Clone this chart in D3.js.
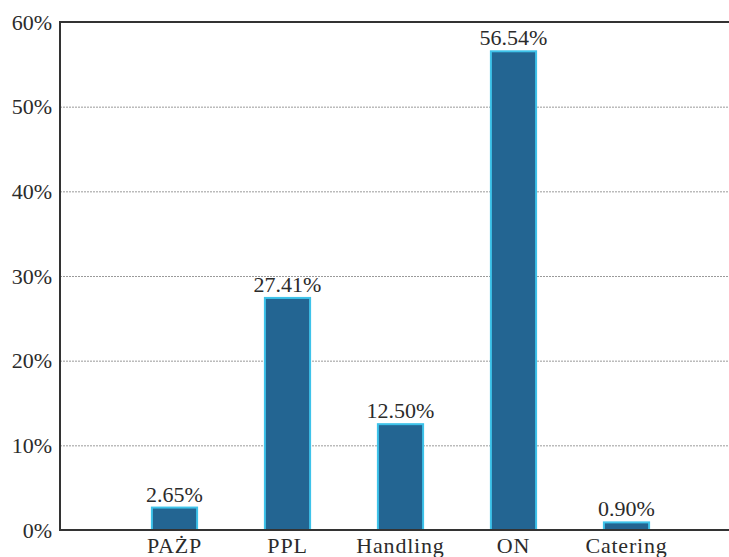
<!DOCTYPE html>
<html>
<head>
<meta charset="utf-8">
<script src="https://cdn.jsdelivr.net/npm/d3@7"></script>
<style>
  body { margin: 0; background: #fff; }
  text { font-family: "Liberation Serif", "Times New Roman", serif; fill: #2b2b2b; }
</style>
</head>
<body>
<div id="chart"></div>
<script>
var w = 729;
var h = 557;

// data
var categories = ['PAŻP', 'PPL', 'Handling', 'ON', 'Catering'];
var shares = [2.65, 27.41, 12.50, 56.54, 0.90];
var yTicks = [0, 10, 20, 30, 40, 50, 60];

// note: "top" is reserved on window, use other names
var plotLeft = 60, plotTop = 22, plotBottom = 530;

var svg = d3.select('#chart')
            .append('svg')
            .attr('width', w)
            .attr('height', h);

var x = d3.scaleBand()
          .domain(categories)
          .range([118, 683]);

var y = d3.scaleLinear()
          .domain([0, 60])
          .range([plotBottom, plotTop]);

var barW = x.bandwidth() * 0.4;

// grid lines
svg.append('g')
   .selectAll('line')
   .data(yTicks.filter(function(d){ return d > 0 && d < 60; }))
   .enter()
   .append('line')
   .attr('x1', plotLeft)
   .attr('x2', w)
   .attr('y1', function(d){ return y(d) + 0.5; })
   .attr('y2', function(d){ return y(d) + 0.5; })
   .style('stroke', '#9a9a9a')
   .style('stroke-width', 1)
   .style('stroke-dasharray', '2,1');

// top line
svg.append('line')
   .attr('x1', plotLeft).attr('x2', w)
   .attr('y1', y(60)).attr('y2', y(60))
   .style('stroke', '#333')
   .style('stroke-width', 2);

// y axis
var yAxis = d3.axisLeft(y)
              .tickValues(yTicks)
              .tickSize(0)
              .tickPadding(8)
              .tickFormat(function(d){ return d + '%'; });

var yg = svg.append('g')
            .attr('transform', 'translate(' + plotLeft + ',0)')
            .call(yAxis);
yg.select('.domain').remove();
yg.selectAll('text')
  .style('font-size', '22px')
  .style('font-family', '"Liberation Serif", serif')
  .attr('fill', '#2b2b2b');

svg.append('line')
   .attr('x1', plotLeft).attr('x2', plotLeft)
   .attr('y1', plotTop - 1).attr('y2', plotBottom + 1)
   .style('stroke', '#333')
   .style('stroke-width', 2);

// bars
svg.append('g')
   .selectAll('rect')
   .data(shares)
   .enter()
   .append('rect')
   .attr('x', function(d, i){ return x(categories[i]) + (x.bandwidth() - barW) / 2; })
   .attr('y', function(d){ return y(d); })
   .attr('width', barW)
   .attr('height', function(d){ return plotBottom - y(d); })
   .style('fill', '#236592')
   .style('stroke', '#3ec3ea')
   .style('stroke-width', 2);

// bottom axis line
svg.append('line')
   .attr('x1', plotLeft - 1).attr('x2', w)
   .attr('y1', plotBottom).attr('y2', plotBottom)
   .style('stroke', '#333')
   .style('stroke-width', 2);

// value labels
svg.append('g')
   .selectAll('text')
   .data(shares)
   .enter()
   .append('text')
   .attr('x', function(d, i){ return x(categories[i]) + x.bandwidth() / 2; })
   .attr('y', function(d){ return y(d) - 6; })
   .attr('text-anchor', 'middle')
   .style('font-size', '22px')
   .text(function(d){ return d.toFixed(2) + '%'; });

// category labels
svg.append('g')
   .selectAll('text')
   .data(categories)
   .enter()
   .append('text')
   .attr('x', function(d){ return x(d) + x.bandwidth() / 2; })
   .attr('y', 553)
   .attr('text-anchor', 'middle')
   .style('font-size', '22px')
   .style('letter-spacing', '0.8px')
   .text(function(d){ return d; });
</script>
</body>
</html>
